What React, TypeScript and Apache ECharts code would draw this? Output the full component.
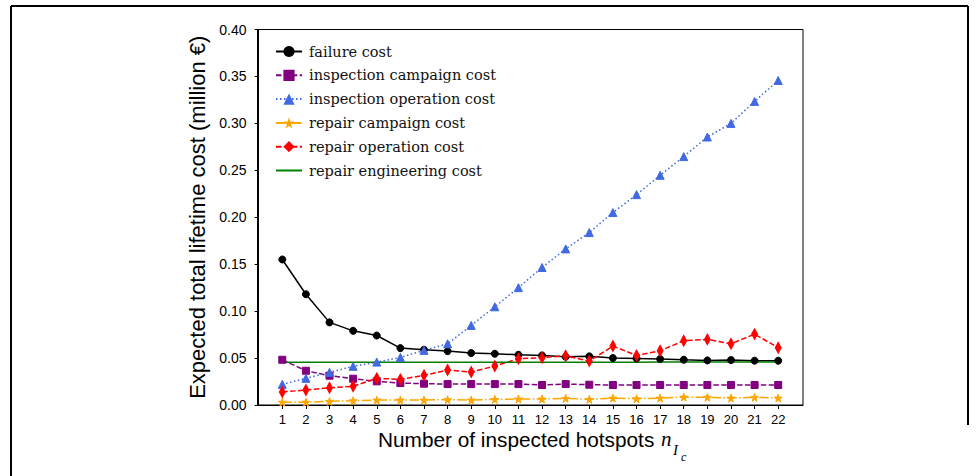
import React, { useEffect, useRef } from "react";
import * as echarts from "echarts";

// Number of inspected hotspots
const hotspots = [1, 2, 3, 4, 5, 6, 7, 8, 9, 10, 11, 12, 13, 14, 15, 16, 17, 18, 19, 20, 21, 22];

// Expected costs in million €
const failureCost = [0.155, 0.118, 0.088, 0.079, 0.074, 0.0606, 0.0589, 0.0574, 0.0553, 0.0546, 0.0535, 0.0528, 0.0514, 0.0518, 0.05, 0.0496, 0.049, 0.0482, 0.0475, 0.0479, 0.0472, 0.0472];
const inspectionCampaignCost = [0.0482, 0.0365, 0.0312, 0.028, 0.0252, 0.0234, 0.0227, 0.0223, 0.0223, 0.0223, 0.0223, 0.0213, 0.0223, 0.0216, 0.0213, 0.0213, 0.0213, 0.0213, 0.0213, 0.0213, 0.0213, 0.0213];
const inspectionOperationCost = [0.022, 0.0284, 0.0348, 0.0412, 0.0457, 0.0507, 0.0582, 0.0652, 0.0848, 0.1046, 0.125, 0.1465, 0.1663, 0.1837, 0.205, 0.2241, 0.2447, 0.2646, 0.2855, 0.3, 0.3234, 0.3457];
const repairCampaignCost = [0.003, 0.003, 0.0039, 0.0046, 0.0053, 0.0053, 0.0053, 0.0057, 0.0053, 0.006, 0.0064, 0.0064, 0.0071, 0.006, 0.0074, 0.0067, 0.0074, 0.0085, 0.0082, 0.0074, 0.0082, 0.0074];
const repairOperationCost = [0.0138, 0.016, 0.0184, 0.0199, 0.0284, 0.0273, 0.0316, 0.0372, 0.0351, 0.0415, 0.0493, 0.0504, 0.0525, 0.0468, 0.0628, 0.0528, 0.0578, 0.0684, 0.0699, 0.0652, 0.0755, 0.061];
const repairEngineeringCost = [0.0455, 0.0455, 0.0455, 0.0455, 0.0455, 0.0455, 0.0455, 0.0455, 0.0455, 0.0455, 0.0455, 0.0456, 0.0456, 0.0456, 0.0456, 0.0456, 0.0457, 0.0457, 0.0457, 0.0457, 0.0457, 0.0457];

const STAR = "path://M50,0 L61,35 L98,35 L68,57 L79,91 L50,70 L21,91 L32,57 L2,35 L39,35 Z";
const THIN_DIAMOND = "path://M0,-10 L6,0 L0,10 L-6,0 Z";

const pairs = (vals: number[]) => hotspots.map((n, i) => [n, vals[i]]);

function lineSeries(
  name: string,
  vals: number[],
  color: string,
  dash: any,
  symbol: string,
  symbolSize: any
) {
  return {
    name,
    type: "line",
    data: pairs(vals),
    symbol,
    symbolSize,
    showSymbol: symbol !== "none",
    itemStyle: { color, borderColor: color },
    lineStyle: { color, width: 1.5, type: dash },
    emphasis: { disabled: true },
  };
}

export default function App() {
  const ref = useRef<HTMLDivElement>(null);

  useEffect(() => {
    const chart = echarts.init(ref.current!, null, { renderer: "svg" });
    const sans = "Liberation Sans";
    chart.setOption({
      animation: false,
      backgroundColor: "#ffffff",
      grid: {
        left: 257.5,
        right: 173,
        top: 29.5,
        bottom: 71,
        show: true,
        borderColor: "#000",
        borderWidth: 1,
      },
      legend: {
        orient: "vertical",
        left: 270,
        top: 39,
        itemWidth: 26,
        itemHeight: 14,
        itemGap: 8.8,
        textStyle: {
          fontFamily: "DejaVu Serif",
          fontSize: 14.5,
          color: "#111",
          padding: [0, 0, 0, 2],
        },
        data: [
          "failure cost",
          "inspection campaign cost",
          "inspection operation cost",
          "repair campaign cost",
          "repair operation cost",
          { name: "repair engineering cost", itemStyle: { opacity: 0 } },
        ],
      },
      xAxis: {
        type: "value",
        min: -0.05,
        max: 23.05,
        axisLine: { onZero: false, lineStyle: { color: "#000", width: 1 } },
        axisTick: { show: true, length: 4, customValues: hotspots, lineStyle: { color: "#000" } },
        axisLabel: {
          customValues: hotspots,
          margin: 8,
          fontFamily: sans,
          fontSize: 13,
          color: "#000",
        },
        splitLine: { show: false },
      },
      yAxis: {
        type: "value",
        min: 0,
        max: 0.4,
        interval: 0.05,
        axisLine: { show: true, lineStyle: { color: "#000", width: 1 } },
        axisTick: { show: true, length: 4, lineStyle: { color: "#000" } },
        axisLabel: {
          formatter: (v: number) => v.toFixed(2),
          margin: 11,
          fontFamily: sans,
          fontSize: 14,
          color: "#000",
        },
        splitLine: { show: false },
        name: "Expected total lifetime cost (million €)",
        nameLocation: "middle",
        nameGap: 44,
        nameTextStyle: { fontFamily: sans, fontSize: 22, color: "#000" },
      },
      graphic: [
        { type: "line", shape: { x1: 11, y1: 6, x2: 968, y2: 6 }, style: { stroke: "#000", lineWidth: 2 } },
        { type: "line", shape: { x1: 11, y1: 6, x2: 11, y2: 476 }, style: { stroke: "#000", lineWidth: 2 } },
        { type: "line", shape: { x1: 968, y1: 6, x2: 968, y2: 425 }, style: { stroke: "#000", lineWidth: 2 } },
        {
          type: "text",
          x: 378,
          y: 439,
          style: { text: "Number of inspected hotspots", font: `20.8px "${sans}"`, fill: "#000", verticalAlign: "middle" },
        },
        {
          type: "text",
          x: 661,
          y: 439,
          style: { text: "n", font: `italic 21px "Liberation Serif"`, fill: "#000", verticalAlign: "middle" },
        },
        {
          type: "text",
          x: 673,
          y: 450,
          style: { text: "I", font: `italic 15px "Liberation Serif"`, fill: "#000", verticalAlign: "middle" },
        },
        {
          type: "text",
          x: 681,
          y: 457,
          style: { text: "c", font: `italic 12px "Liberation Serif"`, fill: "#000", verticalAlign: "middle" },
        },
      ],
      series: [
        lineSeries("failure cost", failureCost, "#000000", "solid", "circle", 7),
        lineSeries("inspection campaign cost", inspectionCampaignCost, "#800080", [5.5, 2.4], "rect", 7),
        lineSeries("inspection operation cost", inspectionOperationCost, "#4169E1", [1.5, 2.5], "triangle", 8),
        lineSeries("repair campaign cost", repairCampaignCost, "#FFA500", [9.6, 2.4, 1.5, 2.4], STAR, [8, 8]),
        lineSeries("repair operation cost", repairOperationCost, "#FF0000", [5.5, 2.4], THIN_DIAMOND, [6, 11]),
        lineSeries("repair engineering cost", repairEngineeringCost, "#008000", "solid", "none", 0),
      ],
    });
    return () => chart.dispose();
  }, []);

  return (
    <div
      ref={ref}
      style={{ position: "fixed", left: 0, top: 0, width: 976, height: 476, background: "#fff" }}
    />
  );
}
